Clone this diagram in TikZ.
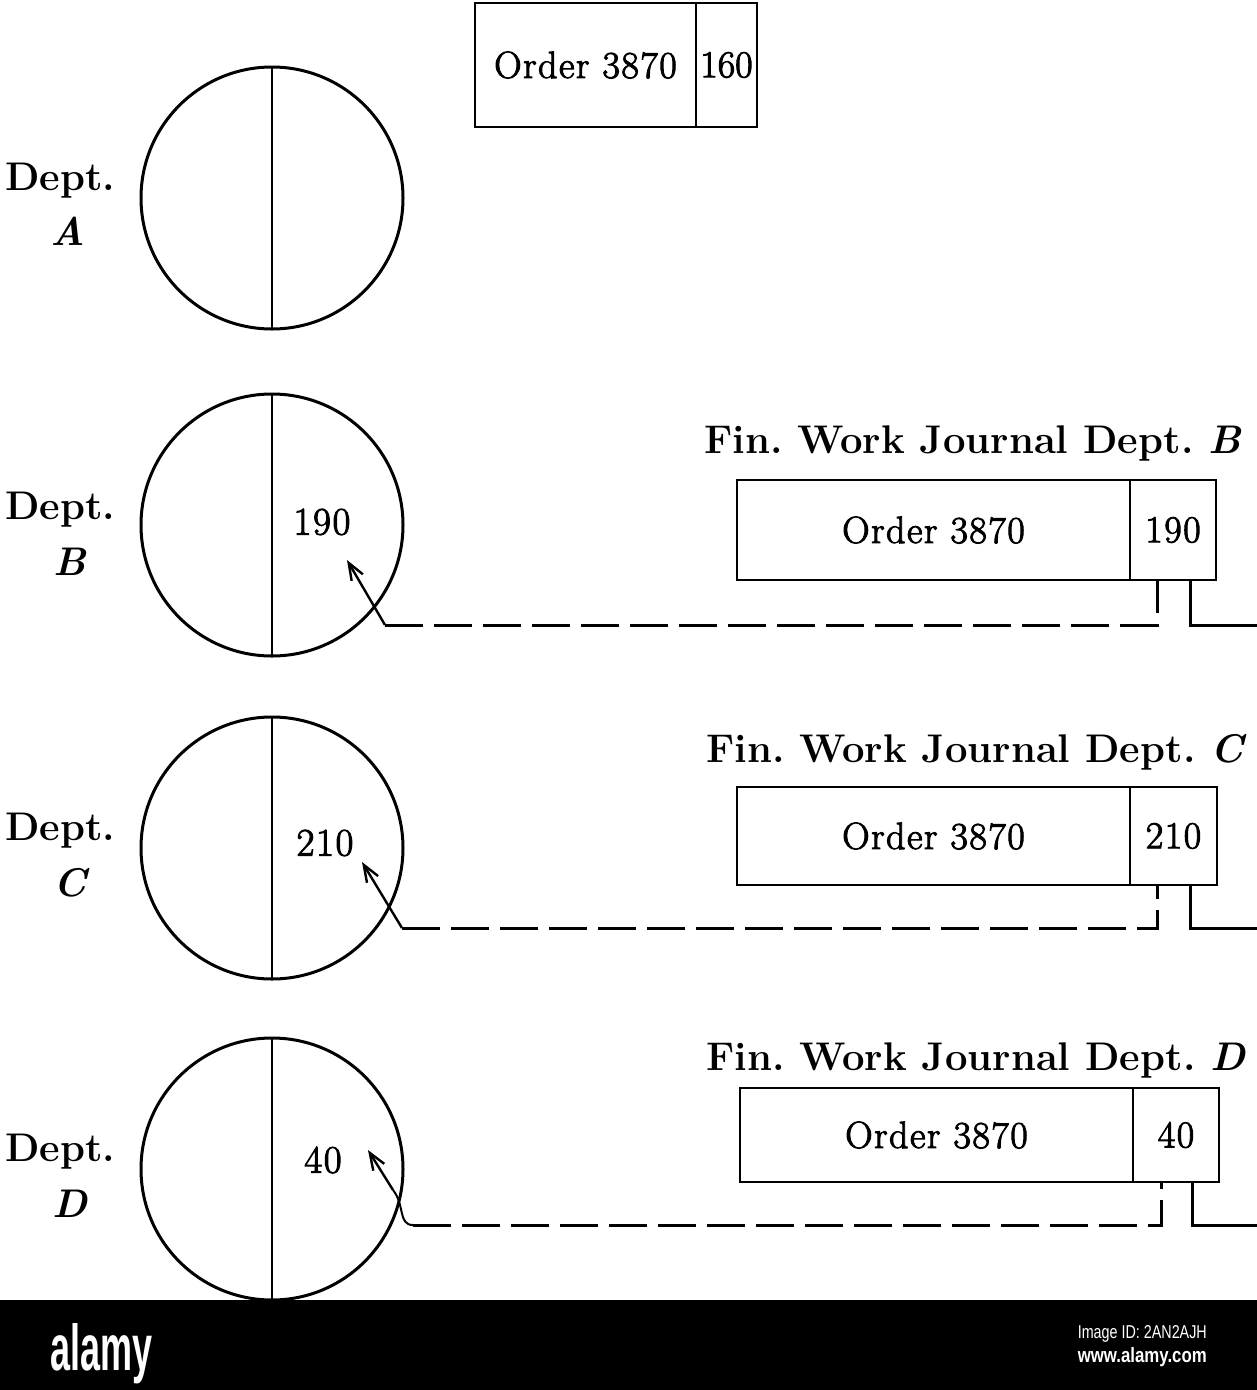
\documentclass[tikz,border=0pt]{standalone}
\usepackage{fontspec}
\newfontfamily\wmfont{Liberation Sans}
\newfontfamily\medfont{Latin Modern Roman}[FakeBold=2.5,LetterSpace=4]
\usetikzlibrary{arrows.meta,calc}
\begin{document}
\frenchspacing
\begin{tikzpicture}[x=1pt,y=-1pt,
  lw/.style={line width=2.4pt},
  circ/.style={draw,circle,line width=3pt,minimum size=262pt,inner sep=0pt,outer sep=0pt},
  cell/.style={draw,line width=2.6pt,inner sep=0pt,outer sep=0pt,anchor=north west,font=\medfont\fontsize{38}{40}\selectfont},
  ttl/.style={anchor=base west,inner sep=0pt,font=\fontsize{40}{44}\selectfont\bfseries},
  dlab/.style={anchor=base west,inner sep=0pt,font=\fontsize{40}{44}\selectfont\bfseries},
  dlet/.style={anchor=base,inner sep=0pt,font=\fontsize{40}{44}\selectfont\bfseries\itshape},
  num/.style={inner sep=0pt,font=\medfont\fontsize{39}{40}\selectfont},
  dsh/.style={line width=3pt,dash pattern=on 38pt off 11pt},
  sol/.style={line width=3pt},
  arr/.style={line width=2.4pt,-{Straight Barb[length=17pt,width=13pt]}}]
\useasboundingbox (0,0) rectangle (1257,1390);
\fill[white] (0,0) rectangle (1257,1390);

% top box
\node[cell,minimum width=221pt,minimum height=124pt] (oTop) at (475,3) {Order 3870};
\node[cell,minimum width=61pt,minimum height=124pt] (nTop) at (696,3) {\addfontfeatures{LetterSpace=0}160};

% circles
\node[circ] (cA) at (272,198) {};
\draw[lw] (cA.north) -- (cA.south);
\node[circ] (cB) at (272,525) {};
\draw[lw] (cB.north) -- (cB.south);
\node[circ] (cC) at (272,848) {};
\draw[lw] (cC.north) -- (cC.south);
\node[circ] (cD) at (272,1169) {};
\draw[lw] (cD.north) -- (cD.south);

% dept labels
\node[dlab] (dA) at (5,190) {Dept.};
\node[dlet] (lA) at (68,245) {A};
\node[dlab] (dB2) at (5,519) {Dept.};
\node[dlet] (lB) at (70,575) {B};
\node[dlab] (dC2) at (5,840) {Dept.};
\node[dlet] (lC) at (70,896) {C};
\node[dlab] (dD2) at (5,1161) {Dept.};
\node[dlet] (lD) at (70,1217) {D};

% numbers in circles
\node[num] (vB) at (322,522) {190};
\node[num] (vC) at (325,843) {210};
\node[num] (vD) at (323,1160) {40};

% row B
\node[ttl] (tB) at (704,453) {Fin. Work Journal Dept. \textit{B}};
\node[cell,minimum width=393pt,minimum height=100pt] (oB) at (737,480) {Order 3870};
\node[cell,minimum width=86pt,minimum height=100pt] (nB) at (1130,480) {190};
\coordinate (tipB) at (347,560);
\coordinate (tailB) at (385,625);
\coordinate (dB) at (1157,625);
\coordinate (sB) at (1190,625);
\coordinate (eB) at (1257,625);
\draw[arr] (tailB) -- (tipB);
\draw[dsh] (tailB) -- (dB) -- (dB |- nB.south);
\draw[sol] (sB |- nB.south) -- (sB) -- (eB);

% row C
\node[ttl] (tC) at (706,762) {Fin. Work Journal Dept. \textit{C}};
\node[cell,minimum width=393pt,minimum height=98pt] (oC) at (737,787) {Order 3870};
\node[cell,minimum width=87pt,minimum height=98pt] (nC) at (1130,787) {210};
\coordinate (tipC) at (362,862);
\coordinate (tailC) at (402,928);
\coordinate (dC) at (1157,928);
\coordinate (sC) at (1190,928);
\coordinate (eC) at (1257,928);
\draw[arr] (tailC) -- (tipC);
\draw[dsh] (tailC) -- (dC) -- (dC |- nC.south);
\draw[sol] (sC |- nC.south) -- (sC) -- (eC);

% row D
\node[ttl] (tD) at (706,1070) {Fin. Work Journal Dept. \textit{D}};
\node[cell,minimum width=393pt,minimum height=94pt] (oD) at (740,1088) {Order 3870};
\node[cell,minimum width=86pt,minimum height=94pt] (nD) at (1133,1088) {40};
\coordinate (tipD) at (368,1150);
\coordinate (tailD) at (393,1190);
\coordinate (bendD) at (413,1225);
\coordinate (dD) at (1161,1225);
\coordinate (sD) at (1192,1225);
\coordinate (eD) at (1257,1225);
\draw[arr] (tailD) -- (tipD);
\draw[line width=2pt] (tailD) .. controls (405,1205) and (398,1225) .. (bendD);
\draw[dsh] (bendD) -- (dD) -- (dD |- nD.south);
\draw[sol] (sD |- nD.south) -- (sD) -- (eD);

% watermark bar
\fill[black] (0,1300) rectangle (1257,1390);
\node[anchor=north west,inner sep=0pt,text=white] (logo) at (50,1323) {\resizebox{102pt}{47pt}{\wmfont\bfseries alamy}};
\node[anchor=east,inner sep=0pt,text=white] (wid) at (1207,1334) {\resizebox{129pt}{13pt}{\wmfont Image ID: 2AN2AJH}};
\node[anchor=east,inner sep=0pt,text=white] (wurl) at (1207,1357) {\resizebox{129pt}{15pt}{\wmfont\bfseries www.alamy.com}};
\end{tikzpicture}
\end{document}
